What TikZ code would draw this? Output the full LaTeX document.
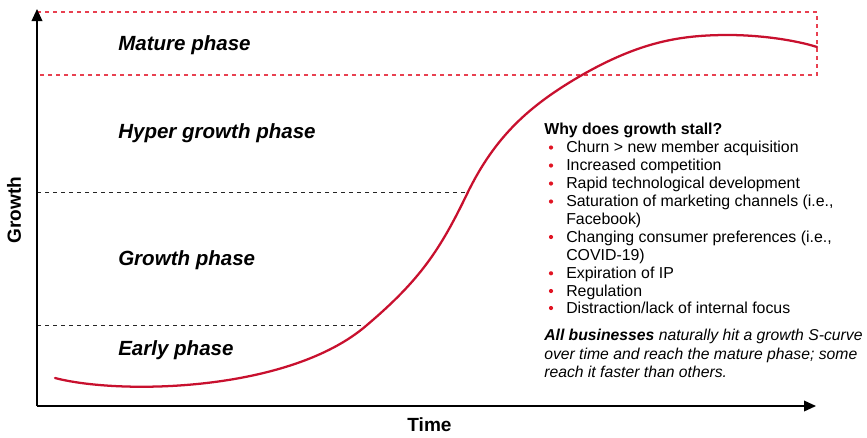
\documentclass[tikz,border=0pt]{standalone}
\usepackage{fontspec}
\setmainfont{Liberation Sans}
\usetikzlibrary{arrows.meta}
\definecolor{curvered}{RGB}{200,16,46}
\definecolor{boxred}{RGB}{232,64,80}
\definecolor{bulletred}{RGB}{225,20,35}
\tikzset{
  axis/.style={line width=1.1pt, -{Triangle[length=9pt,width=8pt]}},
  phase/.style={anchor=base west, inner sep=0pt, font=\fontsize{15.4}{18}\selectfont\bfseries\itshape},
  axlabel/.style={inner sep=0pt, font=\fontsize{14.3}{17}\selectfont\bfseries},
  item/.style={anchor=base west, inner sep=0pt, font=\fontsize{11.9}{14}\selectfont},
  guide/.style={dash pattern=on 3pt off 3pt, line width=0.6pt, black!85},
  redbox/.style={dash pattern=on 3pt off 3pt, line width=0.9pt, boxred},
  bul/.style={fill=bulletred, draw=none}
}
\begin{document}
\begin{tikzpicture}[x=0.75pt,y=-0.75pt]
\useasboundingbox (0,0) rectangle (867,437);
% coordinates
\coordinate (O) at (37,406);
\coordinate (Ytip) at (37,9);
\coordinate (Xtip) at (816,406);
\coordinate (B1) at (37,12);
\coordinate (B2) at (817,12);
\coordinate (B3) at (817,75);
\coordinate (B4) at (37,75);
\coordinate (G1) at (37,192);
\coordinate (G2) at (467,192);
\coordinate (E1) at (37,325);
\coordinate (E2) at (367,325);
% red dashed mature box
\draw[redbox] (B1) -- (B2) -- (B3) -- (B4);
% guides
\draw[guide] (G1) -- (G2);
\draw[guide] (E1) -- (E2);
% axes
\draw[axis] (O) -- (Ytip);
\draw[axis] (O) -- (Xtip);
% S-curve
\draw[curvered, line width=1.7pt, line cap=round]
  (55,378) .. controls (120,395) and (290,392) .. (367,325)
  .. controls (420,280) and (440,250) .. (467,194)
  .. controls (495,136) and (530,105) .. (582,75)
  .. controls (640,42) and (680,35) .. (728,35)
  .. controls (760,35) and (795,40) .. (817,47);
% phase labels
\node[phase] (mature) at (118,50.7) {Mature phase};
\node[phase] (hyper) at (118,138.3) {Hyper growth phase};
\node[phase] (growthp) at (118,265) {Growth phase};
\node[phase] (early) at (118,355.5) {Early phase};
% axis labels
\node[axlabel, rotate=90] (ylab) at (14,210) {Growth};
\node[axlabel, anchor=base] (xlab) at (429.5,431.7) {Time};
% list
\node[item, font=\fontsize{11.9}{14}\selectfont\bfseries] (why) at (544,134) {Why does growth stall?};
\node[item] (i1) at (566,152.5) {Churn > new member acquisition};
\node[item] (i2) at (566,170.5) {Increased competition};
\node[item] (i3) at (566,188.5) {Rapid technological development};
\node[item] (i4) at (566,206.5) {Saturation of marketing channels (i.e.,};
\node[item] (i4b) at (566,224.3) {Facebook)};
\node[item] (i5) at (566,242) {Changing consumer preferences (i.e.,};
\node[item] (i5b) at (566,260.5) {COVID-19)};
\node[item] (i6) at (566,278.3) {Expiration of IP};
\node[item] (i7) at (566,296) {Regulation};
\node[item] (i8) at (566,313) {Distraction/lack of internal focus};
\foreach \yy in {152.5,170.5,188.5,206.5,242,278.3,296,313}
  \fill[bul] (551,\yy-5) circle (2.1);
% conclusion
\node[item, font=\fontsize{11.8}{14}\selectfont\itshape] (c1) at (544,340.7) {\textbf{All businesses} naturally hit a growth S-curve};
\node[item, font=\fontsize{11.8}{14}\selectfont\itshape] (c2) at (544,359.3) {over time and reach the mature phase; some};
\node[item, font=\fontsize{11.8}{14}\selectfont\itshape] (c3) at (544,377.5) {reach it faster than others.};
\end{tikzpicture}
\end{document}
